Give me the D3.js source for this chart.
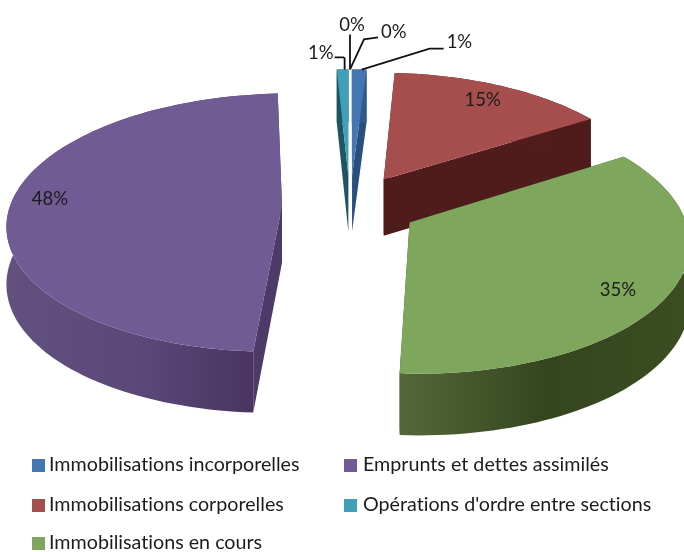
<!DOCTYPE html>
<html><head><meta charset="utf-8">
<script src="https://cdn.jsdelivr.net/npm/d3@7/dist/d3.min.js"></script>
<style>html,body{margin:0;padding:0;background:#fff}svg{display:block;filter:blur(.45px)}text{font-family:Lato,"Open Sans",sans-serif;fill:#1c1c1c;font-variant-ligatures:none}</style>
</head><body><svg id="c" width="684" height="552"></svg>
<script>
const categories=["Immobilisations incorporelles","Immobilisations corporelles","Immobilisations en cours","Emprunts et dettes assimilés","Opérations d'ordre entre sections"];
const values=[1.0,15,34.95,48.25,0.8];
const zeroLabels=["0%","0%"];
const topColors=["#4376b2","#a64e4e","#7fa65d","#705b94","#3fa1b9"];
const sideColors=["#27507f","#4f1b1b","#3a4a22","#4d3a68","#1e5563"];
const wallStops=[["#2f5a8c","#2f5a8c"],["#5a2020","#4e1a1a"],["#56683a","#35451f","#3c4d22"],["#62507f","#5a4878","#45305a"],["#1e5563","#1e5563"]];
const legendColors=["#4376b2","#a64e4e","#7fa65d","#705b94","#3fa1b9"];
const pct=d3.format(".0f");

const W=684,H=552,cx=350,cy=206,ax=272,by=127,persp=.13,explode=.25,depth=57,labelR=.85;
const svg=d3.select("#c");
const defs=svg.append("defs");
const project=(px,py)=>{const w=1+persp*py;return {x:cx+ax*px/w,y:cy-by*py/w,w};};
const arcs=d3.pie().sort(null).value(d=>d)(values);
const lift=(p,z)=>({x:p.x,y:p.y+z*depth/Math.sqrt(p.w)});
const line=d3.line().x(d=>d.x).y(d=>d.y);
const slices=arcs.map((a,i)=>{
  const mid=(a.startAngle+a.endAngle)/2;
  const ox=explode*Math.sin(mid),oy=explode*Math.cos(mid);
  const n=Math.max(3,Math.ceil((a.endAngle-a.startAngle)/.03));
  const ts=d3.range(n+1).map(k=>a.startAngle+(a.endAngle-a.startAngle)*k/n);
  const rim=ts.map(t=>project(ox+Math.sin(t),oy+Math.cos(t)));
  return {i,mid,ox,oy,apex:project(ox,oy),rim};
});
// back to front order
const order=[0,4,1,3,2];
order.forEach(i=>{
  const s=slices[i];
  const g=svg.append("g");
  const xs=s.rim.map(d=>d.x);
  const grad=defs.append("linearGradient").attr("id","w"+i).attr("gradientUnits","userSpaceOnUse")
    .attr("x1",d3.min(xs)).attr("x2",d3.max(xs)).attr("y1",0).attr("y2",0);
  wallStops[i].forEach((c,k,arr)=>grad.append("stop").attr("offset",k/(arr.length-1)).attr("stop-color",c));
  const a=s.apex,r0=s.rim[0],r1=s.rim[s.rim.length-1];
  [[a,r0],[a,r1]].forEach(([p,q])=>{
    g.append("path").attr("d",line([p,q,lift(q,1),lift(p,1)])+"Z").attr("fill",sideColors[i]);
  });
  g.append("path").attr("d",line([...s.rim,...s.rim.map(p=>lift(p,1)).reverse()])+"Z").attr("fill",`url(#w${i})`);
  g.append("path").attr("d",line([a,...s.rim])+"Z").attr("fill",topColors[i]);
});
// inside labels, nudged from the common label radius
const nudges={1:[-3,1],2:[-10,8],3:[-1,-6]};
[1,2,3].forEach(i=>{
  const s=slices[i];
  const p=project(s.ox+labelR*Math.sin(s.mid),s.oy+labelR*Math.cos(s.mid));
  svg.append("text").attr("x",p.x+nudges[i][0]).attr("y",p.y+6+nudges[i][1]).attr("text-anchor","middle").attr("font-size",18.5).text(pct(values[i])+"%");
});
// leader labels around the narrow slices
const rimMid=s=>s.rim[Math.floor(s.rim.length/2)];
const b=rimMid(slices[0]),t=rimMid(slices[4]);
const joint=project(0,1.25);
const leaders=[
 {from:t,dx:[[0,-11],[-1,-12],[-10,-12]],text:pct(values[4])+"%",tx:-11,ty:-16,anchor:"end"},
 {from:joint,dx:[[0,-35]],text:zeroLabels[0],tx:2,ty:-44,anchor:"middle"},
 {from:joint,dx:[[14,-30],[28,-32]],text:zeroLabels[1],tx:31,ty:-37,anchor:"start"},
 {from:b,dx:[[68,-21],[82,-21]],text:pct(values[0])+"%",tx:85,ty:-28,anchor:"start"}
];
leaders.forEach(l=>{
  const o=l.from;
  const pts=[o,...l.dx.map(d=>({x:o.x+d[0],y:o.y+d[1]}))];
  svg.append("path").attr("d",line(pts)).attr("fill","none").attr("stroke","#111").attr("stroke-width",1.8);
  svg.append("text").attr("x",o.x+l.tx).attr("y",o.y+l.ty+6).attr("text-anchor",l.anchor).attr("font-size",18.5).text(l.text);
});
// legend
const colX=d3.scaleOrdinal().domain([0,1]).range([32,344]);
const textX=d3.scaleOrdinal().domain([0,1]).range([17,19]);
const rowY=d3.scaleOrdinal().domain([0,1,2]).range([465,505,543]);
const legendPos=[[0,0],[0,1],[0,2],[1,0],[1,1]];
categories.forEach((c,i)=>{
  const [cl,rw]=legendPos[i];
  const g=svg.append("g").attr("transform",`translate(${colX(cl)},${rowY(rw)})`);
  g.append("rect").attr("x",0).attr("y",-6).attr("width",13).attr("height",13).attr("fill",legendColors[i]);
  g.append("text").attr("x",textX(cl)).attr("y",6).attr("font-size",19.7).text(c);
});
</script></body></html>
